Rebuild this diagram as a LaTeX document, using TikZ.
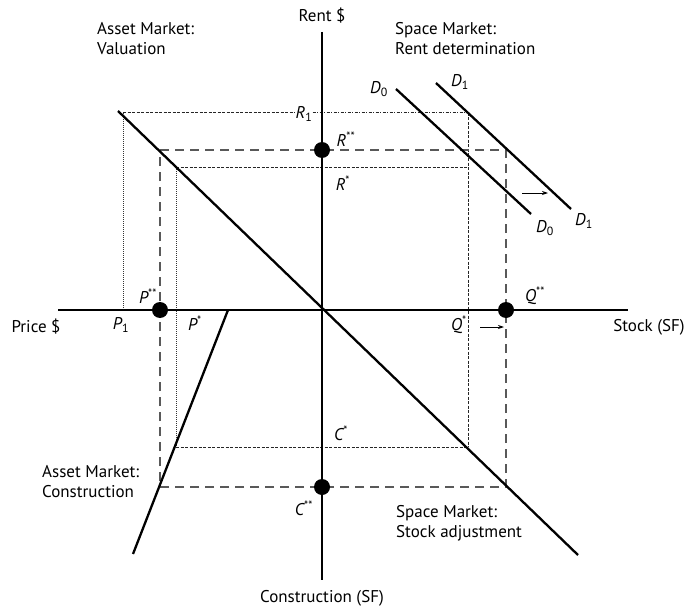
\documentclass[tikz,border=0pt]{standalone}
\usepackage{fontspec}
\setmainfont{PT Sans}
\usetikzlibrary{arrows.meta}
\begin{document}
\begin{tikzpicture}[x=1pt,y=-1pt,
  thick line/.style={line width=2.3pt},
  longdash/.style={line width=1.4pt,draw=black!65,dash pattern=on 9pt off 6pt},
  finedash/.style={line width=1pt,draw=black!85,dash pattern=on 3pt off 1.5pt},
  dotline/.style={line width=1pt,draw=black!80,dash pattern=on 1pt off 1pt},
  dashdotline/.style={line width=1pt,draw=black!85,dash pattern=on 3pt off 1.5pt on 1pt off 1.5pt},
  eqdot/.style={circle,fill=black,minimum size=16pt,inner sep=0pt},
  lab/.style={font=\fontsize{17}{20}\selectfont,inner sep=0pt},
  title/.style={font=\fontsize{17}{20}\selectfont,inner sep=0pt,align=left,anchor=north west},
  sym/.style={font=\fontsize{17}{20}\selectfont\itshape,inner sep=0pt},
  shiftarrow/.style={line width=0.9pt,-{Stealth[length=6pt,width=4pt]}}
]
\useasboundingbox (0,0) rectangle (688,607);
% axis end points
\coordinate (ytop) at (322,32);
\coordinate (ybot) at (322,580);
\coordinate (xl) at (58,310);
\coordinate (xr) at (628,310);
\coordinate (dA) at (118,111);
\coordinate (dB) at (578,555);
\coordinate (cA) at (228,310);
\coordinate (cB) at (133,554);
\coordinate (d0a) at (396,89);
\coordinate (d0b) at (531,214);
\coordinate (d1a) at (436,83);
\coordinate (d1b) at (571,209);
% rectangle corners
\coordinate (r1l) at (123,113);
\coordinate (r1r) at (468,113);
\coordinate (p1) at (123,310);
\coordinate (sAl) at (176,167);
\coordinate (sAr) at (468,167);
\coordinate (sBl) at (176,447);
\coordinate (sBr) at (468,447);
\coordinate (lAl) at (160,150);
\coordinate (lAr) at (506,150);
\coordinate (lBl) at (160,487);
\coordinate (lBr) at (506,487);

% R1 dotted lines
\node[sym] (R1) at (304,114) {R\textsubscript{\upshape 1}};
\draw[finedash] (r1l) -- (R1.west |- r1l);
\draw[dashdotline] (R1.east |- r1l) -- (r1r);
\draw[dotline] (r1l) -- (p1);
% R* rectangle (fine dashes)
\draw[finedash] (sAl) -- (sAr);
\draw[dotline] (sAl) -- (sBl);
\draw[finedash] (sBl) -- (sBr);
\draw[finedash] (r1r) -- (sBr);
% R** rectangle (long dashes)
\draw[longdash] (lAl) -- (lAr) -- (lBr) -- (lBl) -- cycle;

% axes and curves
\draw[thick line] (ytop) -- (ybot);
\draw[thick line] (xl) -- (xr);
\draw[thick line] (dA) -- (dB);
\draw[thick line] (cA) -- (cB);
\draw[thick line] (d0a) -- (d0b);
\draw[thick line] (d1a) -- (d1b);

% equilibrium dots
\node[eqdot] (Rss) at (322,150) {};
\node[eqdot] (Pss) at (160,310) {};
\node[eqdot] (Qss) at (506,310) {};
\node[eqdot] (Css) at (322,487) {};

% shift arrows
\coordinate (a1s) at (522,193);
\coordinate (a1e) at (548,193);
\coordinate (a2s) at (480,327);
\coordinate (a2e) at (504,327);
\draw[shiftarrow] (a1s) -- (a1e);
\draw[shiftarrow] (a2s) -- (a2e);

% symbol labels
\node[sym] (Rsslab) at (346,139) {R\textsuperscript{\upshape **}};
\node[sym] (Rslab) at (343,183) {R\textsuperscript{\upshape *}};
\node[sym] (Psslab) at (148,296) {P\textsuperscript{\upshape **}};
\node[sym] (P1lab) at (121,325) {P\textsubscript{\upshape 1}};
\node[sym] (Pslab) at (195,323) {P\textsuperscript{\upshape *}};
\node[sym] (Qsslab) at (535,296) {Q\textsuperscript{\upshape **}};
\node[sym] (Qslab) at (459,325) {Q\textsuperscript{\upshape *}};
\node[sym] (Cslab) at (341,433) {C\textsuperscript{\upshape *}};
\node[sym] (Csslab) at (304,508) {C\textsuperscript{\upshape **}};
\node[sym] (D0t) at (379,89) {D\textsubscript{\upshape 0}};
\node[sym] (D1t) at (460,82) {D\textsubscript{\upshape 1}};
\node[sym] (D0b) at (545,228) {D\textsubscript{\upshape 0}};
\node[sym] (D1b) at (584,221) {D\textsubscript{\upshape 1}};

% axis labels
\node[lab] (rent) at (322,16) {Rent \$};
\node[lab] (price) at (36,327) {Price \$};
\node[lab] (stock) at (649,327) {Stock (SF)};
\node[lab] (constr) at (322,598) {Construction (SF)};

% quadrant titles
\node[title] (amv) at (97,22) {Asset Market:\\Valuation};
\node[title] (smr) at (395,22) {Space Market:\\Rent determination};
\node[title] (amc) at (42,465) {Asset Market:\\Construction};
\node[title] (sms) at (396,505) {Space Market:\\Stock adjustment};
\end{tikzpicture}
\end{document}
